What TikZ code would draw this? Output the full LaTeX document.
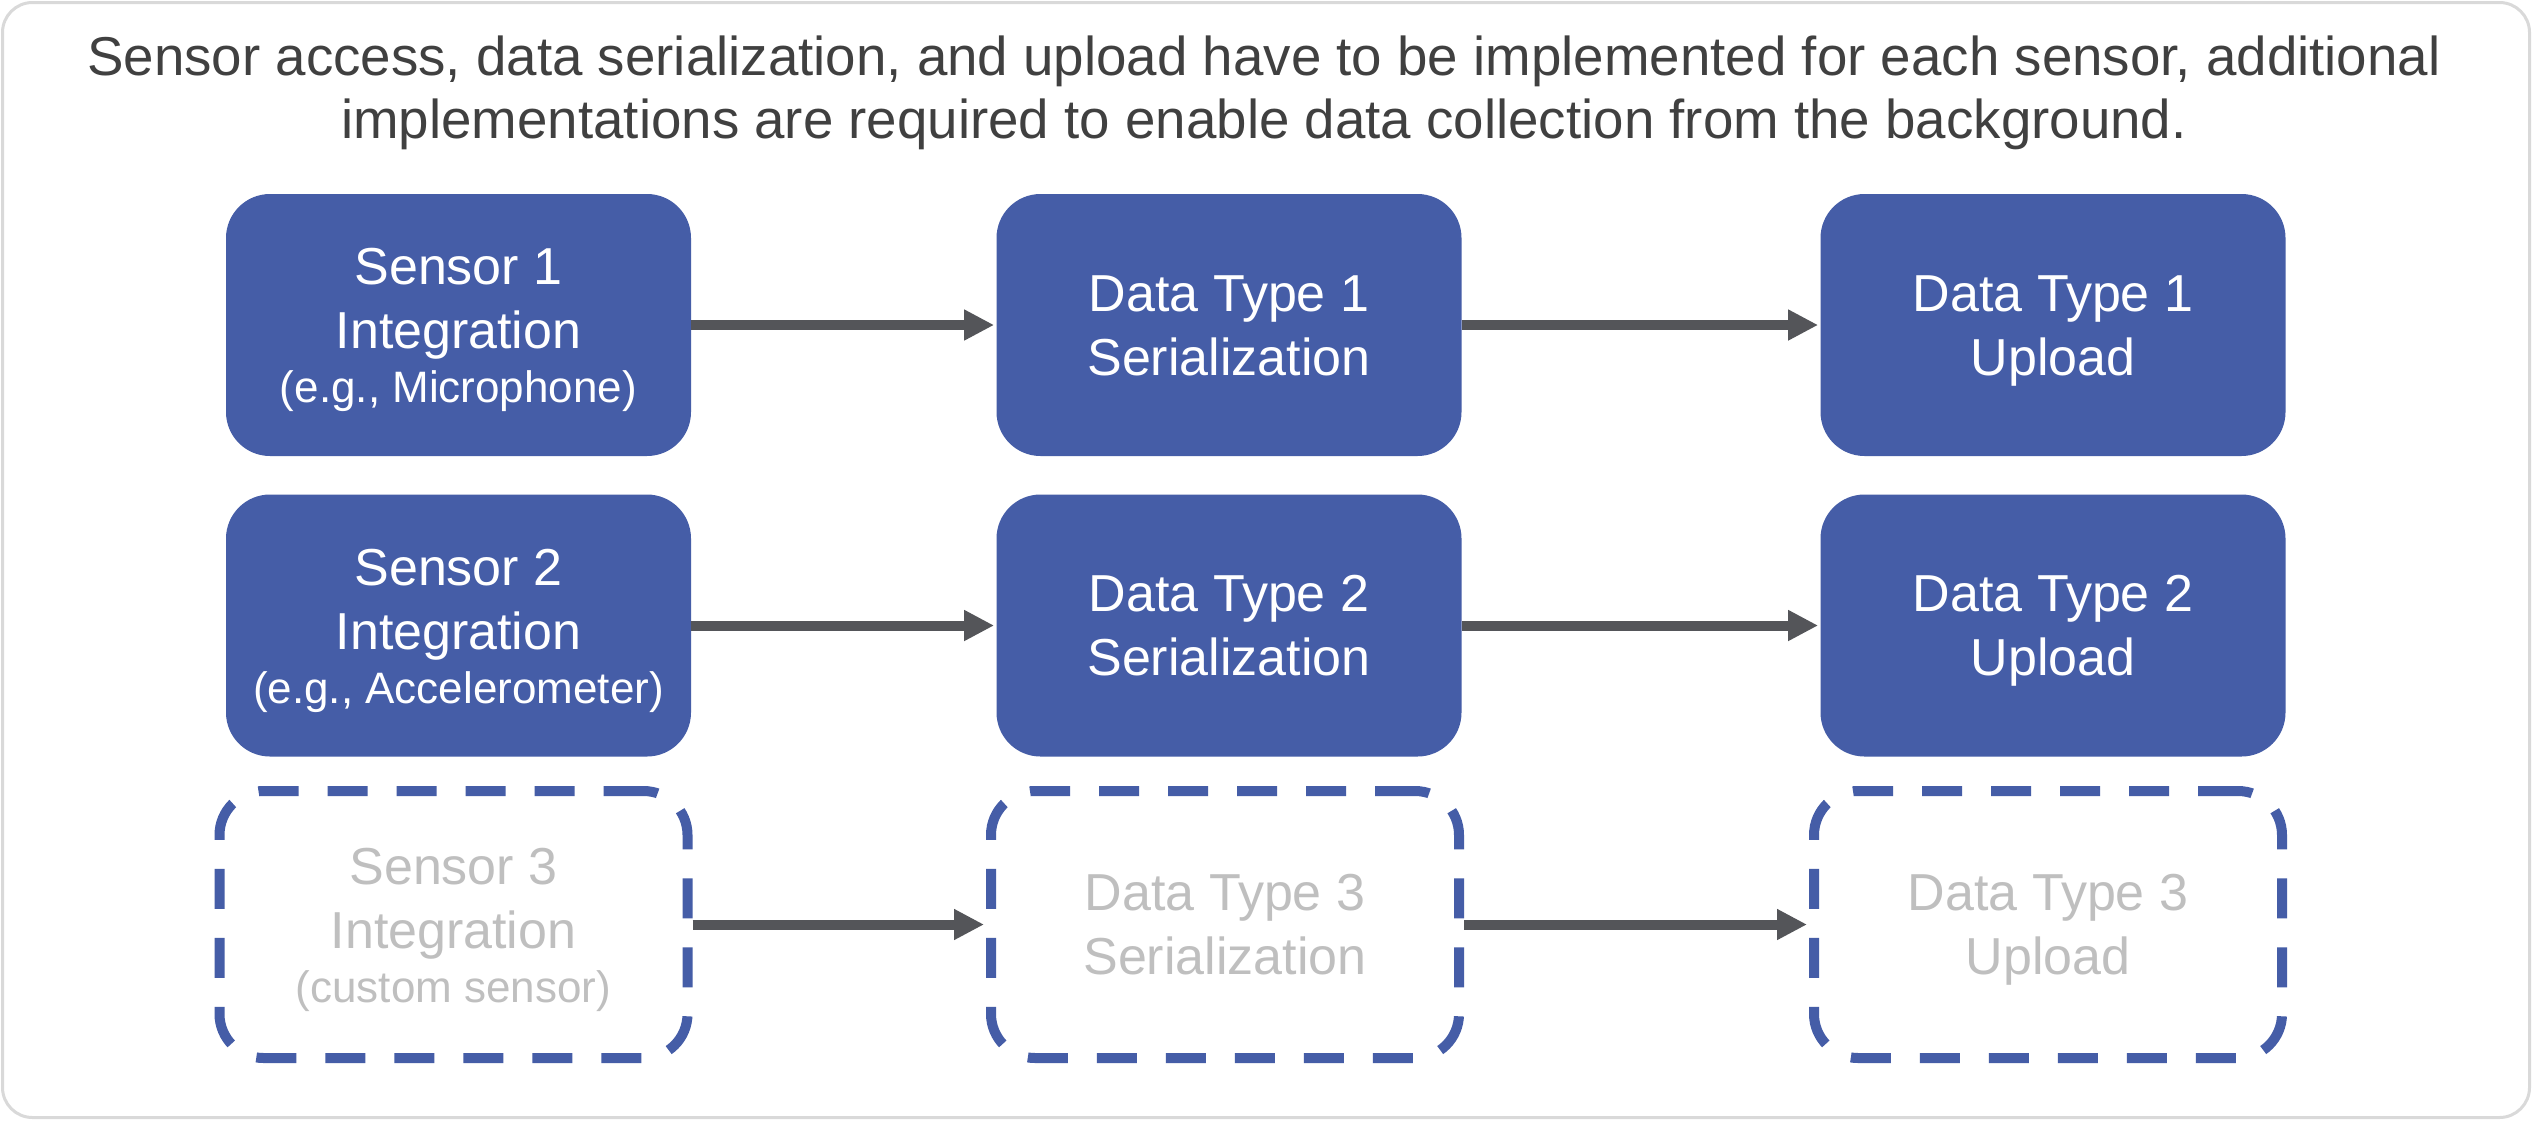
\documentclass[tikz,border=0pt]{standalone}
\usepackage{fontspec}
\setmainfont{Liberation Sans}
\usetikzlibrary{arrows.meta}
\definecolor{boxblue}{RGB}{69,93,167}
\definecolor{arrowgray}{RGB}{84,85,89}
\definecolor{titlegray}{RGB}{64,64,64}
\definecolor{ghost}{RGB}{191,191,191}
\definecolor{framegray}{RGB}{217,217,217}
\newcommand\mytopstrut{\rule{0pt}{0.905em}}
\newcommand\mybotstrut{\rule[-0.212em]{0pt}{0.212em}}
\begin{document}
\begin{tikzpicture}[x=0.5pt,y=-0.5pt,
  boxtext/.style={align=center, font=\fontsize{26}{32}\selectfont},
  solidbox/.style={rectangle, rounded corners=22pt, fill=boxblue, text=white, boxtext,
    minimum width=232.5pt, minimum height=131pt, inner sep=0pt},
  ghostbox/.style={rectangle, rounded corners=22pt, draw=boxblue, line width=5pt,
    dash pattern=on 20pt off 14.5pt, text=ghost, boxtext,
    minimum width=234pt, minimum height=133.5pt, inner sep=0pt},
  titletext/.style={text=titlegray, font=\fontsize{27.35}{32}\selectfont, inner sep=0pt, anchor=base},
  flow/.style={draw=arrowgray, line width=5pt, -{Triangle[length=15pt,width=14.5pt]}, shorten >=1pt}
]
\useasboundingbox (0,0) rectangle (2532,1120);
\draw[framegray, line width=1.5pt, fill=white, rounded corners=15pt] (2.5,2.5) rectangle (2529.5,1117.5);

\node[titletext] (title1) at (1264,75) {Sensor access, data serialization, and upload have to be implemented for each sensor, additional};
\node[titletext] (title2) at (1264,138) {implementations are required to enable data collection from the background.};

\node[solidbox] (s1) at (458.5,325) {\mytopstrut Sensor 1\\Integration\\[-5pt]{\fontsize{22}{26}\selectfont (e.g., Microphone)\mybotstrut}};
\node[solidbox] (d1) at (1229,325) {\mytopstrut Data Type 1\\Serialization\mybotstrut};
\node[solidbox] (u1) at (2053,325) {\mytopstrut Data Type 1\\Upload\mybotstrut};

\node[solidbox] (s2) at (458.5,625.5) {\mytopstrut Sensor 2\\Integration\\[-5pt]{\fontsize{22}{26}\selectfont (e.g., Accelerometer)\mybotstrut}};
\node[solidbox] (d2) at (1229,625.5) {\mytopstrut Data Type 2\\Serialization\mybotstrut};
\node[solidbox] (u2) at (2053,625.5) {\mytopstrut Data Type 2\\Upload\mybotstrut};

\node[ghostbox] (s3) at (453.5,924.5) {\mytopstrut Sensor 3\\Integration\\[-5pt]{\fontsize{22}{26}\selectfont (custom sensor)\mybotstrut}};
\node[ghostbox] (d3) at (1225,924.5) {\mytopstrut Data Type 3\\Serialization\mybotstrut};
\node[ghostbox] (u3) at (2048,924.5) {\mytopstrut Data Type 3\\Upload\mybotstrut};

\draw[flow] (s1.east) -- (d1.west);
\draw[flow] (d1.east) -- (u1.west);
\draw[flow] (s2.east) -- (d2.west);
\draw[flow] (d2.east) -- (u2.west);
\draw[flow] (s3.east) -- (d3.west);
\draw[flow] (d3.east) -- (u3.west);
\end{tikzpicture}
\end{document}
